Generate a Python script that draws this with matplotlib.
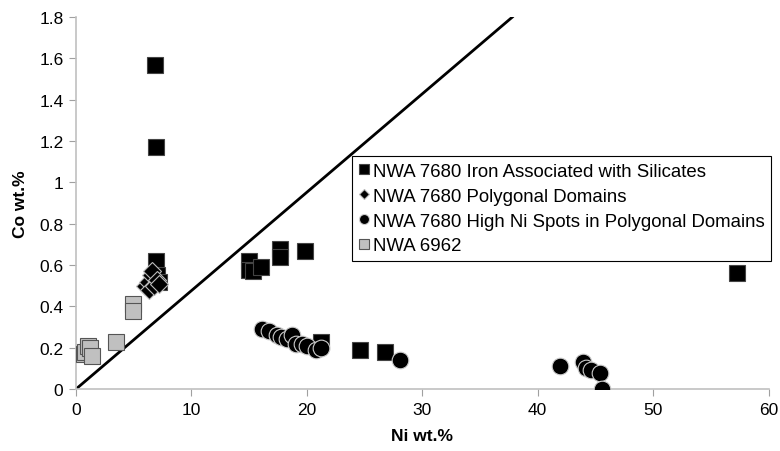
import matplotlib.pyplot as plt
from matplotlib.ticker import FuncFormatter

plt.rcParams["font.family"] = ["Liberation Sans", "DejaVu Sans"]

# NWA 7680 Iron Associated with Silicates
iron_ni = [6.85, 6.9, 6.9, 7.0, 7.2, 15.0, 15.0, 15.3, 16.0, 17.7, 17.7, 19.8, 21.2, 24.6, 26.8, 57.3]
iron_co = [1.57, 1.17, 0.62, 0.55, 0.52, 0.62, 0.575, 0.57, 0.59, 0.68, 0.64, 0.67, 0.23, 0.19, 0.18, 0.56]

# NWA 7680 Polygonal Domains
poly_ni = [6.0, 6.2, 6.3, 6.5, 6.6, 6.8, 7.0, 7.2]
poly_co = [0.50, 0.52, 0.48, 0.55, 0.57, 0.50, 0.53, 0.51]

# NWA 7680 High Ni Spots in Polygonal Domains
spot_ni = [16.1, 16.7, 17.4, 17.8, 18.3, 18.7, 19.1, 19.6, 20.0, 20.8, 21.2, 28.1,
           41.9, 43.9, 44.2, 44.6, 45.4, 45.6]
spot_co = [0.29, 0.28, 0.26, 0.25, 0.24, 0.26, 0.22, 0.22, 0.21, 0.19, 0.20, 0.14,
           0.11, 0.13, 0.10, 0.09, 0.08, 0.0]

# NWA 6962
n6962_ni = [0.7, 0.8, 1.07, 1.2, 1.36, 3.47, 4.9, 4.9]
n6962_co = [0.17, 0.18, 0.21, 0.20, 0.16, 0.23, 0.41, 0.38]

# reference line
line_ni = [0, 37.8]
line_co = [0, 1.8]

fig = plt.figure(figsize=(7.8, 4.52), dpi=100)
ax = fig.add_axes([0.0974, 0.137, 0.888, 0.823])

ax.plot(line_ni, line_co, color="black", lw=2, zorder=1)

ax.plot(iron_ni, iron_co, "s", ms=11.5, mfc="black", mec="#444444", mew=0.8,
        ls="none", zorder=3, label="NWA 7680 Iron Associated with Silicates")
ax.plot(poly_ni, poly_co, "D", ms=9, mfc="black", mec="#bbbbbb", mew=0.8,
        ls="none", zorder=4, label="NWA 7680 Polygonal Domains")
ax.plot(spot_ni, spot_co, "o", ms=12, mfc="black", mec="#cccccc", mew=0.8,
        ls="none", zorder=3, label="NWA 7680 High Ni Spots in Polygonal Domains")
ax.plot(n6962_ni, n6962_co, "s", ms=11.5, mfc="#c0c0c0", mec="#555555", mew=0.8,
        ls="none", zorder=3, label="NWA 6962")

ax.set_xlim(0, 60)
ax.set_ylim(0, 1.8)
ax.set_xticks(range(0, 61, 10))
ax.set_yticks([i * 0.2 for i in range(10)])
ax.yaxis.set_major_formatter(FuncFormatter(lambda v, p: f"{v:g}"))

for s in ["top", "right"]:
    ax.spines[s].set_visible(False)
for s in ["left", "bottom"]:
    ax.spines[s].set_color("#c0c0c0")
    ax.spines[s].set_linewidth(1.2)
ax.tick_params(direction="out", length=5, color="#a0a0a0", labelsize=12.5, pad=4)

ax.set_xlabel("Ni wt.%", fontsize=12.5, fontweight="bold", labelpad=8)
ax.set_ylabel("Co wt.%", fontsize=12.5, fontweight="bold", labelpad=8)

leg = fig.legend(loc="upper left", bbox_to_anchor=(0.451, 0.652), fontsize=13.4,
                 markerscale=0.6, handlelength=0.6, handletextpad=0.2,
                 borderpad=0.35, labelspacing=0.42, borderaxespad=0,
                 fancybox=False, edgecolor="black", framealpha=1)
leg.get_frame().set_linewidth(0.8)

fig.savefig("out.png", dpi=100)
